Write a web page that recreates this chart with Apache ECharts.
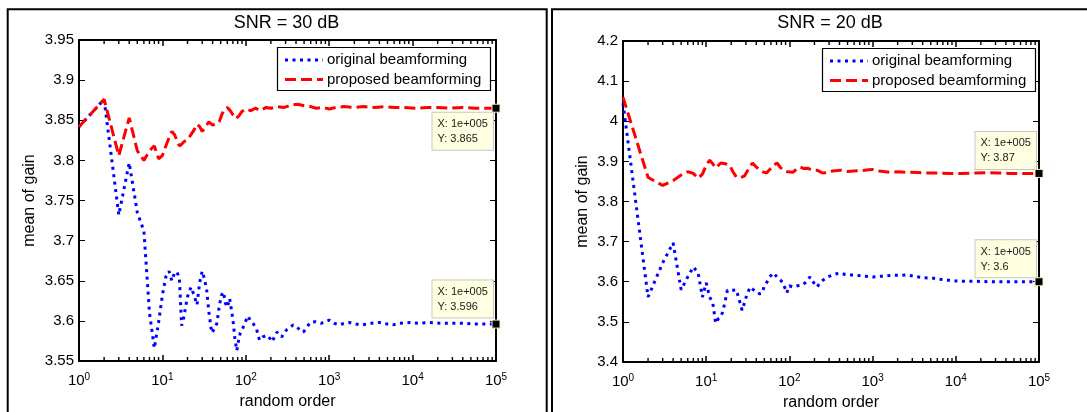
<!DOCTYPE html>
<html>
<head>
<meta charset="utf-8">
<script src="https://cdn.jsdelivr.net/npm/echarts@6.0.0/dist/echarts.min.js"></script>
<style>
  html, body { margin: 0; padding: 0; background: #ffffff; }
  #chart { width: 1087px; height: 412px; }
</style>
</head>
<body>
<div id="chart"></div>
<script>
// Mean gain vs. random order, two SNR cases, original vs. proposed beamforming.

// ---- SNR = 30 dB ----
const snr30OrigN = [1, 2, 3, 4, 5, 6, 7, 8, 9, 10, 11, 12, 13, 14, 15, 16, 17, 18, 19, 20, 22, 24, 26, 28, 30, 32, 34, 36, 39, 42, 45, 48, 51, 54, 57, 60, 64, 67, 70, 74, 78, 82, 86, 93, 100, 106, 114, 122, 135, 146, 160, 180, 195, 207, 220, 236, 255, 270, 290, 310, 340, 370, 420, 490, 540, 590, 680, 800, 1000, 1150, 1300, 1550, 1760, 2100, 2500, 3200, 4000, 5000, 5800, 7000, 9300, 12000, 16000, 22000, 30000, 42000, 60000, 80000, 100000];
const snr30OrigGain = [3.842, 3.876, 3.732, 3.797, 3.735, 3.712, 3.610, 3.566, 3.598, 3.632, 3.655, 3.662, 3.650, 3.660, 3.661, 3.652, 3.594, 3.604, 3.618, 3.630, 3.642, 3.632, 3.620, 3.648, 3.662, 3.652, 3.638, 3.612, 3.585, 3.590, 3.597, 3.618, 3.632, 3.636, 3.622, 3.617, 3.628, 3.630, 3.602, 3.578, 3.563, 3.576, 3.585, 3.592, 3.600, 3.606, 3.600, 3.597, 3.589, 3.576, 3.580, 3.582, 3.578, 3.574, 3.580, 3.586, 3.582, 3.580, 3.586, 3.589, 3.592, 3.595, 3.591, 3.586, 3.592, 3.598, 3.599, 3.597, 3.601, 3.597, 3.595, 3.597, 3.598, 3.596, 3.595, 3.597, 3.598, 3.596, 3.595, 3.597, 3.598, 3.597, 3.598, 3.597, 3.597, 3.597, 3.596, 3.596, 3.596];

const snr30PropN = [1, 2, 3, 4, 5, 6, 7, 8, 9, 10, 11, 12, 13, 14, 15, 16, 17, 18, 20, 22, 24, 26, 28, 30, 33, 36, 40, 44, 48, 52, 56, 60, 65, 70, 76, 82, 90, 100, 115, 130, 150, 175, 200, 240, 290, 350, 420, 500, 600, 700, 850, 1000, 1200, 1500, 2000, 2600, 3500, 4500, 6000, 8000, 11000, 15000, 20000, 28000, 40000, 55000, 75000, 100000];
const snr30PropGain = [3.842, 3.876, 3.806, 3.853, 3.812, 3.800, 3.812, 3.818, 3.802, 3.806, 3.818, 3.828, 3.836, 3.832, 3.824, 3.818, 3.820, 3.823, 3.826, 3.832, 3.838, 3.845, 3.842, 3.836, 3.842, 3.848, 3.844, 3.846, 3.848, 3.858, 3.864, 3.866, 3.862, 3.857, 3.852, 3.855, 3.861, 3.864, 3.862, 3.865, 3.862, 3.866, 3.865, 3.867, 3.866, 3.869, 3.870, 3.868, 3.867, 3.865, 3.866, 3.864, 3.866, 3.867, 3.866, 3.867, 3.866, 3.867, 3.866, 3.866, 3.865, 3.866, 3.866, 3.865, 3.866, 3.865, 3.865, 3.865];

// ---- SNR = 20 dB ----
const snr20OrigN = [1, 2, 3, 4, 5, 6, 7, 8, 9, 10, 11, 12, 13, 14, 15, 16, 18, 21, 23, 25, 27, 29, 31, 34, 37, 40, 44, 47, 50, 53, 58, 64, 71, 78, 84, 93, 100, 110, 125, 145, 160, 177, 195, 215, 235, 253, 290, 333, 370, 405, 470, 550, 650, 800, 1000, 1300, 1700, 2100, 2600, 3300, 4200, 5300, 6500, 8000, 10000, 13000, 18000, 25000, 35000, 50000, 70000, 100000];
const snr20OrigGain = [4.045, 3.562, 3.647, 3.697, 3.580, 3.612, 3.637, 3.622, 3.562, 3.597, 3.562, 3.547, 3.497, 3.508, 3.512, 3.529, 3.579, 3.579, 3.580, 3.554, 3.529, 3.549, 3.570, 3.587, 3.580, 3.574, 3.570, 3.572, 3.590, 3.597, 3.612, 3.622, 3.612, 3.604, 3.597, 3.572, 3.590, 3.587, 3.590, 3.592, 3.600, 3.612, 3.598, 3.587, 3.598, 3.604, 3.612, 3.617, 3.620, 3.622, 3.618, 3.617, 3.616, 3.614, 3.612, 3.614, 3.616, 3.616, 3.617, 3.613, 3.610, 3.609, 3.606, 3.604, 3.602, 3.601, 3.601, 3.600, 3.600, 3.600, 3.600, 3.600];

const snr20PropN = [1, 2, 3, 4, 5, 6, 7, 8, 9, 10, 11, 12, 13, 15, 17, 19, 21, 23, 26, 29, 32, 36, 40, 44, 48, 53, 58, 64, 71, 77, 84, 95, 110, 125, 135, 150, 165, 190, 215, 250, 285, 330, 375, 420, 500, 600, 750, 900, 1000, 1200, 1600, 2000, 2600, 3500, 4500, 6000, 8500, 12000, 17000, 24000, 32000, 45000, 65000, 100000];
const snr20PropGain = [4.060, 3.860, 3.840, 3.852, 3.866, 3.874, 3.870, 3.858, 3.868, 3.890, 3.903, 3.894, 3.884, 3.896, 3.894, 3.891, 3.874, 3.861, 3.860, 3.864, 3.880, 3.896, 3.886, 3.878, 3.874, 3.871, 3.880, 3.890, 3.896, 3.886, 3.878, 3.874, 3.873, 3.882, 3.886, 3.882, 3.883, 3.878, 3.878, 3.871, 3.872, 3.876, 3.877, 3.878, 3.875, 3.876, 3.877, 3.879, 3.880, 3.876, 3.873, 3.874, 3.873, 3.872, 3.871, 3.871, 3.870, 3.870, 3.871, 3.872, 3.871, 3.870, 3.870, 3.870];

// Log-axis minor tick positions: 2..9 within each decade
const minorMultipliers = [2, 3, 4, 5, 6, 7, 8, 9];
const minorDecades = [1, 10, 100, 1000, 10000];

const FONT = '"Liberation Sans", Arial, Helvetica, sans-serif';
const BLUE = '#0000FF';
const RED = '#FF0000';

function pairs(xs, ys) { return xs.map((x, i) => [x, ys[i]]); }
function last(a) { return a[a.length - 1]; }
// MATLAB-style short exponent: 1e+005
function matlabExp(x) {
  const e = Math.round(Math.log10(x));
  const m = +(x / Math.pow(10, e)).toPrecision(4);
  return m + 'e' + (e >= 0 ? '+' : '-') + String(Math.abs(e)).padStart(3, '0');
}

const minorTicks = [];
minorDecades.forEach(d => minorMultipliers.forEach(m => minorTicks.push(d * m)));

const panels = [
  {
    title: 'SNR = 30 dB',
    grid: { left: 79, top: 40, width: 417, height: 321 },
    yMin: 3.55, yMax: 3.95, yStep: 0.05, yNameGap: 41,
    orig: [snr30OrigN, snr30OrigGain], prop: [snr30PropN, snr30PropGain],
    tipOrig: { pos: [-59, -2], va: 'bottom' },
    tipProp: { pos: [-59, 9], va: 'top' },
    legend: { x: 277, y: 47 }
  },
  {
    title: 'SNR = 20 dB',
    grid: { left: 623, top: 41, width: 416, height: 321 },
    yMin: 3.4, yMax: 4.2, yStep: 0.1, yNameGap: 32,
    orig: [snr20OrigN, snr20OrigGain], prop: [snr20PropN, snr20PropGain],
    tipOrig: { pos: [-59, 0], va: 'bottom' },
    tipProp: { pos: [-59, 0], va: 'bottom' },
    legend: { x: 822, y: 48 }
  }
];

const grids = [], xAxes = [], yAxes = [], series = [], graphics = [];

const axisLineStyle = { show: true, onZero: false, lineStyle: { color: '#000', width: 2 } };

function dataTip(n, v, tip) {
  return {
    symbol: 'rect',
    symbolSize: 8,
    itemStyle: { color: '#000', borderColor: '#F2F2C0', borderWidth: 1 },
    data: [{ coord: [n, v], value: v }],
    label: {
      show: true,
      formatter: 'X: ' + matlabExp(n) + '\nY: ' + v,
      position: tip.pos,
      align: 'left',
      verticalAlign: tip.va,
      fontFamily: FONT,
      fontSize: 11,
      lineHeight: 15,
      color: '#1a1a1a',
      backgroundColor: '#FFFFE1',
      borderColor: '#C8C8C0',
      borderWidth: 1,
      padding: [4, 5, 3, 5]
    },
    animation: false,
    silent: true
  };
}

panels.forEach((p, i) => {
  grids.push(Object.assign({ containLabel: false, outerBoundsMode: 'none' }, p.grid));

  const xBase = {
    type: 'log', logBase: 10, min: 1, max: 100000, gridIndex: i,
    splitNumber: 5,
    axisLine: axisLineStyle,
    axisTick: { show: true, inside: true, length: 6, lineStyle: { color: '#000', width: 1.5 } },
    splitLine: { show: false },
    minorTick: { show: false }
  };
  xAxes.push(Object.assign({}, xBase, {
    position: 'bottom',
    axisLabel: {
      show: true, margin: 11, interval: 0, showMinLabel: true, showMaxLabel: true,
      formatter: v => '{b|10}{s|' + Math.round(Math.log10(v)) + '}',
      rich: {
        b: { fontFamily: FONT, fontSize: 15, lineHeight: 18, color: '#000' },
        s: { fontFamily: FONT, fontSize: 10, lineHeight: 8, verticalAlign: 'top', color: '#000' }
      }
    },
    name: 'random order', nameLocation: 'middle', nameGap: 33,
    nameTextStyle: { fontFamily: FONT, fontSize: 16, color: '#000' }
  }));
  xAxes.push(Object.assign({}, xBase, { position: 'top', axisLabel: { show: false } }));

  const yBase = {
    type: 'value', min: p.yMin, max: p.yMax, interval: p.yStep, gridIndex: i,
    axisLine: axisLineStyle,
    axisTick: { show: true, inside: true, length: 6, lineStyle: { color: '#000', width: 1 } },
    splitLine: { show: false }
  };
  yAxes.push(Object.assign({}, yBase, {
    position: 'left',
    axisLabel: { show: true, margin: 5, fontFamily: FONT, fontSize: 15, color: '#000', showMinLabel: true, showMaxLabel: true },
    name: 'mean of gain', nameLocation: 'middle', nameGap: p.yNameGap, nameRotate: 90,
    nameTextStyle: { fontFamily: FONT, fontSize: 16, color: '#000' }
  }));
  yAxes.push(Object.assign({}, yBase, { position: 'right', axisLabel: { show: false } }));

  // minor ticks along bottom and top edges of the log axis
  series.push({
    type: 'custom',
    coordinateSystem: 'cartesian2d',
    xAxisIndex: 2 * i, yAxisIndex: 2 * i,
    silent: true, animation: false, z: 10, clip: false,
    data: minorTicks.map(v => [v, p.yMin]),
    encode: { x: 0, y: 1 },
    renderItem: (params, api) => {
      const x = api.value(0);
      const b = api.coord([x, p.yMin]);
      const t = api.coord([x, p.yMax]);
      const st = { stroke: '#000', lineWidth: 1.4 };
      return {
        type: 'group',
        children: [
          { type: 'line', shape: { x1: b[0], y1: b[1] - 1, x2: b[0], y2: b[1] - 4 }, style: st },
          { type: 'line', shape: { x1: t[0], y1: t[1] + 1, x2: t[0], y2: t[1] + 4 }, style: st }
        ]
      };
    }
  });

  series.push({
    type: 'line', name: 'original beamforming',
    xAxisIndex: 2 * i, yAxisIndex: 2 * i,
    data: pairs(p.orig[0], p.orig[1]),
    symbol: 'none', smooth: false, animation: false, z: 3,
    lineStyle: { color: BLUE, width: 3, type: [3, 4.5], cap: 'butt' },
    itemStyle: { color: BLUE },
    markPoint: dataTip(last(p.orig[0]), last(p.orig[1]), p.tipOrig)
  });
  series.push({
    type: 'line', name: 'proposed beamforming',
    xAxisIndex: 2 * i, yAxisIndex: 2 * i,
    data: pairs(p.prop[0], p.prop[1]),
    symbol: 'none', smooth: false, animation: false, z: 4,
    lineStyle: { color: RED, width: 3, type: [11, 5], cap: 'butt' },
    itemStyle: { color: RED },
    markPoint: dataTip(last(p.prop[0]), last(p.prop[1]), p.tipProp)
  });

  // title
  graphics.push({
    type: 'text', x: p.grid.left + p.grid.width / 2 - 1, y: 23, z: 100,
    style: { text: p.title, align: 'center', verticalAlign: 'middle', font: '18px ' + FONT, fill: '#000' }
  });

  // legend box
  const L = p.legend;
  graphics.push({
    type: 'rect', z: 100,
    shape: { x: L.x + 0.5, y: L.y + 0.5, width: 213, height: 43 },
    style: { fill: '#fff', stroke: '#000', lineWidth: 1.2 }
  });
  const items = [
    { text: 'original beamforming', color: BLUE, dash: [3, 4.5], dy: 13 },
    { text: 'proposed beamforming', color: RED, dash: [11, 5], dy: 32.5 }
  ];
  items.forEach(it => {
    graphics.push({
      type: 'line', z: 101,
      shape: { x1: L.x + 8, y1: L.y + it.dy, x2: L.x + 46, y2: L.y + it.dy },
      style: { stroke: it.color, lineWidth: 3, lineDash: it.dash, lineCap: 'butt' }
    });
    graphics.push({
      type: 'text', z: 101, x: L.x + 50, y: L.y + it.dy,
      style: { text: it.text, align: 'left', verticalAlign: 'middle', font: '15px ' + FONT, fill: '#000' }
    });
  });
});

// figure panel frames
graphics.push({
  type: 'rect', z: 0,
  shape: { x: 7.7, y: 9.3, width: 539, height: 430 },
  style: { fill: 'none', stroke: '#000', lineWidth: 2 }
});
graphics.push({
  type: 'rect', z: 0,
  shape: { x: 552, y: 9.3, width: 600, height: 430 },
  style: { fill: 'none', stroke: '#000', lineWidth: 2 }
});

const chart = echarts.init(document.getElementById('chart'), null, { renderer: 'canvas' });
chart.setOption({
  backgroundColor: '#ffffff',
  animation: false,
  grid: grids,
  xAxis: xAxes,
  yAxis: yAxes,
  series: series,
  graphic: { elements: graphics }
});
</script>
</body>
</html>
